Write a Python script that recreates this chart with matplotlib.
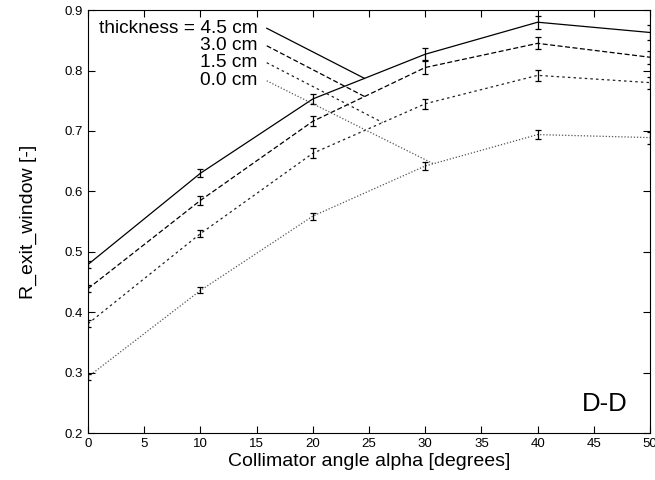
import numpy as np
import matplotlib.pyplot as plt

plt.rcParams['font.family'] = ['Liberation Sans', 'DejaVu Sans']

# collimator angle [degrees]
alpha = [0, 10, 20, 30, 40, 50]

# R_exit_window per window thickness
r_45 = [0.479, 0.630, 0.753, 0.827, 0.880, 0.863]
r_30 = [0.439, 0.585, 0.716, 0.805, 0.845, 0.822]
r_15 = [0.381, 0.530, 0.663, 0.745, 0.792, 0.780]
r_00 = [0.293, 0.436, 0.559, 0.642, 0.694, 0.689]

# statistical errors
err_45 = [0.006, 0.007, 0.008, 0.010, 0.011, 0.012]
err_30 = [0.006, 0.007, 0.008, 0.010, 0.010, 0.011]
err_15 = [0.006, 0.006, 0.008, 0.008, 0.009, 0.010]
err_00 = [0.005, 0.005, 0.006, 0.007, 0.008, 0.010]

labels = ['thickness = 4.5 cm', '3.0 cm', '1.5 cm', '0.0 cm']
# label anchor and the point on the curve the pointer line goes to
label_xy = [(15.9, 0.870), (15.9, 0.841), (15.9, 0.813), (15.9, 0.783)]
pointer_xy = [(24.6, 0.787), (24.6, 0.757), (26.2, 0.714), (30.7, 0.646)]

series = [r_45, r_30, r_15, r_00]
errors = [err_45, err_30, err_15, err_00]
styles = ['-', (0, (4, 2)), (0, (2, 2.5)), (0, (1, 1.5))]
colors = ['black', 'black', '#222222', '#555555']

fig = plt.figure(figsize=(6.55, 4.8), dpi=100)
ax = fig.add_axes([0.1344, 0.0979, 0.858, 0.881])

for y, e, ls, c in zip(series, errors, styles, colors):
    ax.plot(alpha, y, linestyle=ls, color=c, lw=0.9)
    ax.errorbar(alpha, y, yerr=e, fmt='none', ecolor='black', elinewidth=0.9,
                capsize=2.5, capthick=0.9)

for lab, (tx, ty), (px, py), ls, c in zip(labels, label_xy, pointer_xy, styles, colors):
    ax.text(tx - 0.8, ty, lab, ha='right', va='center', fontsize=13.8)
    ax.plot([tx, px], [ty, py], linestyle=ls, color=c, lw=0.9)

ax.text(48.0, 0.228, 'D-D', ha='right', va='bottom', fontsize=18.5)

ax.set_xlim(0, 50)
ax.set_ylim(0.2, 0.9)
ax.set_xticks(np.arange(0, 51, 5))
ax.set_yticks(np.arange(0.2, 0.91, 0.1))
ax.set_yticklabels([f'{v:.1f}' for v in np.arange(0.2, 0.91, 0.1)])
ax.tick_params(direction='in', top=True, right=True, labelsize=9.5, length=5, width=0.8)
ax.set_xlabel('Collimator angle alpha [degrees]', fontsize=14, labelpad=2)
ax.set_ylabel('R_exit_window [-]', fontsize=14, labelpad=20)

fig.savefig('out.png', dpi=100)
